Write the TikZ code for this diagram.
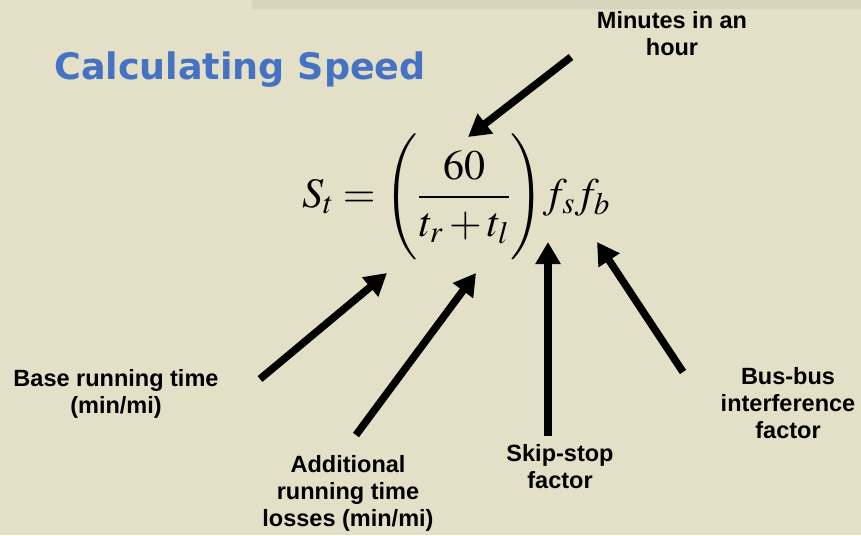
\documentclass[tikz,border=0pt]{standalone}
\usepackage{amsmath}
\usepackage{mathptmx}
\usepackage[no-math]{fontspec}
\newfontfamily\etiquetafont{Liberation Sans}
\newfontfamily\titlefont{DejaVu Sans}
\usepackage{xcolor}
\usepackage{tikz}
\usetikzlibrary{arrows.meta,positioning}
\definecolor{fondo}{RGB}{228,223,199}
\definecolor{franja}{RGB}{214,213,187}
\definecolor{azul}{RGB}{70,114,196}
\tikzset{
  etiqueta/.style={font=\etiquetafont\bfseries\fontsize{23.5}{27}\selectfont,align=center,inner sep=0pt},
  flecha/.style={-{Triangle[length=22pt,width=24pt]},line width=7.5pt,black}
}

\begin{document}
\begin{tikzpicture}[x=1pt,y=-1pt]
\fill[fondo] (0,0) rectangle (861,535);
\fill[franja] (252,0) rectangle (861,9);
\useasboundingbox (0,0) rectangle (861,535);
\node[text=azul,inner sep=0pt,font=\titlefont\bfseries\fontsize{36.5}{40}\selectfont] (titulo) at (240,70) {Calculating Speed};
\node[inner sep=0pt] (ecuacion) at (456,197) {\fontsize{42}{50}\selectfont
  $S_{t}=\Biggl(\dfrac{60}{t_{r}+t_{l}}\Biggr)f_{s}f_{b}$};
% etiquetas
\node[etiqueta] (minutos) at (672,34) {Minutes in an\\hour};
\node[etiqueta] (base) at (116,394) {Base running time\\(min/mi)};
\node[etiqueta] (perdidas) at (348,493) {Additional\\running time\\losses (min/mi)};
\node[etiqueta] (salto) at (560,467) {Skip-stop\\factor};
\node[etiqueta] (bus) at (788,403) {Bus-bus\\interference\\factor};
% flechas
\coordinate (minCola) at (571,57);  \coordinate (minPunta) at (468,137);
\coordinate (baseCola) at (260,379); \coordinate (basePunta) at (387,273);
\coordinate (perCola) at (356,435);  \coordinate (perPunta) at (476,273);
\coordinate (salCola) at (548,436);  \coordinate (salPunta) at (548,242);
\coordinate (busCola) at (683,372);  \coordinate (busPunta) at (597,242);
\draw[flecha] (minCola) -- (minPunta);
\draw[flecha] (baseCola) -- (basePunta);
\draw[flecha] (perCola) -- (perPunta);
\draw[flecha] (salCola) -- (salPunta);
\draw[flecha] (busCola) -- (busPunta);
\end{tikzpicture}
\end{document}
